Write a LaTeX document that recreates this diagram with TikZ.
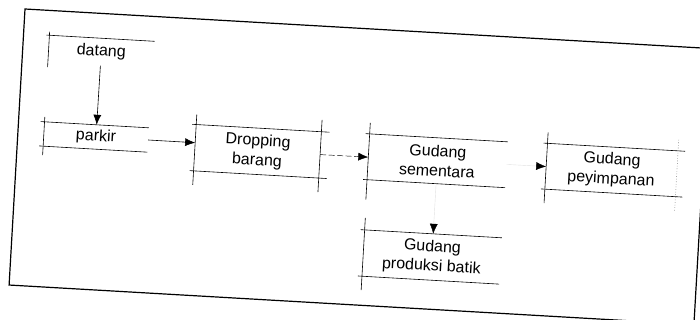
\documentclass[tikz,border=0pt]{standalone}
\usepackage{fontspec}
\setmainfont{Liberation Sans}
\usetikzlibrary{arrows.meta}

\begin{document}
\begin{tikzpicture}[
	x=1pt, y=-1pt,
	store/.style={
		rectangle,
		inner sep=0pt,
		align=center,
		font=\fontsize{16}{19.5}\selectfont,
	},
	rule/.style={% thin lines of a store
		line width=0.6pt,
	},
	ArrowS/.style={% Solid arrows
		-{Latex[length=10pt,width=8pt]},
		line width=0.6pt,
	},
	ArrowD/.style={% Dashed arrow
		ArrowS,
		line width=0.45pt,
		dash pattern=on 6pt off 2.5pt,
	},
	ArrowF/.style={% Faded arrows, only the tip is left
		-{Latex[length=10pt,width=8pt,color=black]},
		line width=0.4pt,
		draw=black!12,
	},
]

\useasboundingbox (0,0) rectangle (700,320);

\begin{scope}[shift={(25,9)}, rotate=-3.3, transform shape]

\draw[line width=1.2pt] (0,0) rectangle (686,276.5);

\node[store, minimum width=105pt, minimum height=27pt] (datang) at (78.6,38.5) {datang};
\node[store, minimum width=104pt, minimum height=24pt] (parkir) at (78.2,123.7) {parkir};
\node[store, minimum width=125pt, minimum height=46pt] (drop) at (240.3,128.7) {Dropping\\barang};
\node[store, minimum width=138pt, minimum height=45.5pt] (sementara) at (420.5,127.8) {Gudang\\sementara};
\node[store, minimum width=130.4pt, minimum height=45.5pt] (simpan) at (594.8,127) {Gudang\\peyimpanan};
\node[store, minimum width=137pt, minimum height=46pt] (produksi) at (420.5,224.2) {Gudang\\produksi batik};

% datang: top rule and left post only
\draw[rule] ([xshift=-3pt]datang.north west) -- (datang.north east);
\draw[rule] ([yshift=3.5pt]datang.north west) -- ([yshift=-4.5pt]datang.south west);

% top and bottom rules
\foreach \n/\ext in {parkir/0pt, drop/8pt, sementara/0pt, simpan/7pt, produksi/0pt}{
	\draw[rule] ([xshift=-4pt]\n.north west) -- ([xshift=\ext]\n.north east);
	\draw[rule] ([xshift=-4pt]\n.south west) -- ([xshift=\ext]\n.south east);
}

% left posts
\foreach \n/\up/\down in {parkir/5pt/9pt, drop/10pt/14pt, sementara/11pt/20pt, simpan/11pt/14pt, produksi/12pt/14pt}{
	\draw[rule] ([yshift=\up]\n.north west) -- ([yshift=-\down]\n.south west);
}

% right posts
\draw[rule] ([yshift=12pt]drop.north east) -- ([yshift=-14pt]drop.south east);
\draw[rule, dotted, black!55] ([yshift=11pt]simpan.north east) -- ([yshift=-14pt]simpan.south east);

\draw[ArrowS] (datang) -- (parkir);
\draw[ArrowS] (parkir.east) -- (parkir.east -| drop.west);
\draw[ArrowD] (drop) -- (sementara);
\draw[ArrowF] (sementara) -- (simpan);
\draw[ArrowF] (sementara) -- (produksi);

\end{scope}

\end{tikzpicture}
\end{document}
